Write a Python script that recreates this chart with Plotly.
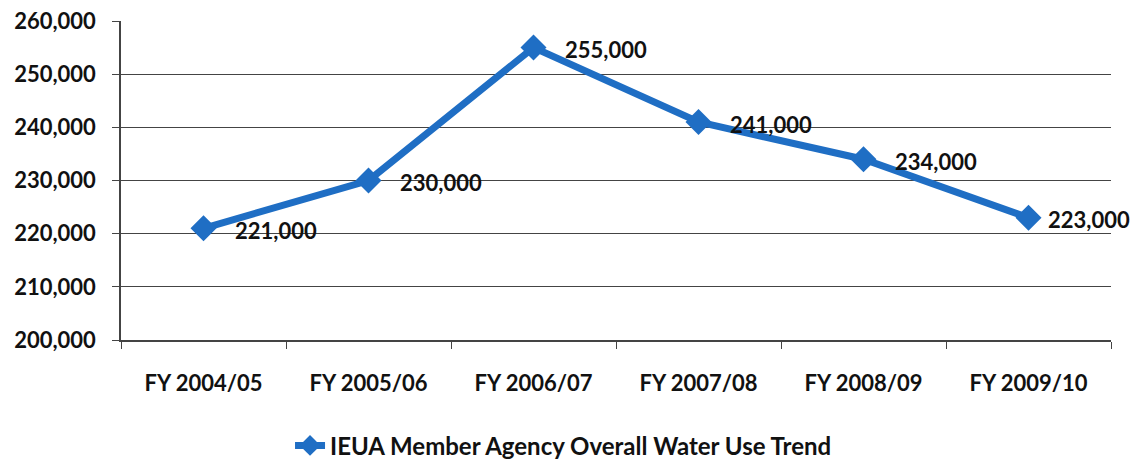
import plotly.graph_objects as go

# ===== データ =====
years = ["FY 2004/05", "FY 2005/06", "FY 2006/07", "FY 2007/08", "FY 2008/09", "FY 2009/10"]
water_use = [221000, 230000, 255000, 241000, 234000, 223000]
labels = [f"{v:,}" for v in water_use]

blue = "#1F6EC4"
font_bold = dict(family="Lato", size=22, color="#111111", weight="bold")

fig = go.Figure()

fig.add_trace(go.Scatter(
    x=years,
    y=water_use,
    mode="lines+markers",
    line=dict(color=blue, width=7),
    marker=dict(symbol="diamond", size=20, color=blue),
    name="IEUA Member Agency Overall Water Use Trend",
    cliponaxis=False,
))

# データラベル（点の右側、最後だけ右端に収まるよう詰める）
for i, (x, y, t) in enumerate(zip(years, water_use, labels)):
    fig.add_annotation(
        x=x, y=y, text=t, showarrow=False,
        xanchor="left", yanchor="middle",
        xshift=17 if i == len(years) - 1 else 29, yshift=-2,
        font=font_bold,
    )

fig.update_layout(
    width=1134, height=462,
    margin=dict(l=121, r=23, t=21, b=122),
    plot_bgcolor="white",
    paper_bgcolor="white",
    showlegend=True,
    legend=dict(
        orientation="h", x=0.447, xanchor="center",
        yref="container", y=0.035, yanchor="middle",
        font=dict(family="Lato", size=24, color="#111111", weight="bold"),
    ),
    xaxis=dict(
        type="category",
        range=[-0.5, 5.5],
        tickson="boundaries",
        ticks="outside", ticklen=7, tickcolor="#444",
        showline=True, linecolor="#444", linewidth=1.5,
        showgrid=False,
        tickfont=font_bold,
        ticklabelstandoff=23,
        automargin=False,
    ),
    yaxis=dict(
        range=[200000, 260000],
        dtick=10000,
        tickformat=",",
        ticks="outside", ticklen=7, tickcolor="#444",
        showline=True, linecolor="#444", linewidth=1.5,
        showgrid=True, gridcolor="#444", gridwidth=1,
        tickfont=font_bold,
        ticklabelstandoff=12,
        automargin=False,
    ),
)

# ページの余白を消す
fig.write_html(
    "out.html",
    config={"displayModeBar": False},
    post_script="document.body.style.margin='0';",
)
